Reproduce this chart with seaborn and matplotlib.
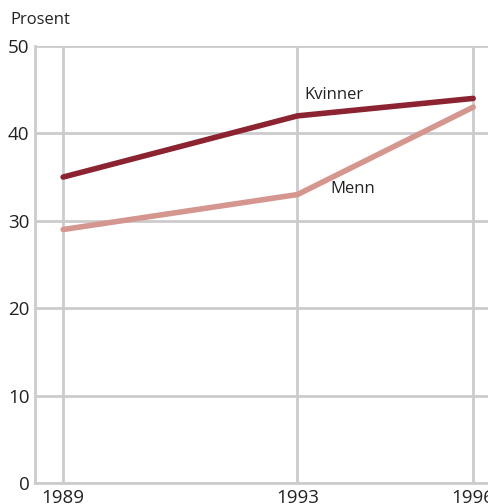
import matplotlib
matplotlib.use("Agg")
import matplotlib.pyplot as plt
import seaborn as sns
import pandas as pd

years = [1989, 1993, 1996]
kvinner = [35, 42, 44]
menn = [29, 33, 43]
y_ticks = [0, 10, 20, 30, 40, 50]

sns.set_style("white")
plt.rcParams["font.family"] = ["Open Sans", "DejaVu Sans"]

df = pd.DataFrame({"year": years * 2,
                   "value": kvinner + menn,
                   "group": ["Kvinner"] * 3 + ["Menn"] * 3})

grid_col = "#cccccc"
fig = plt.figure(figsize=(4.89, 5.04), dpi=100)
ax = fig.add_axes([0.0716, 0.0417, 0.9284, 0.8671])

sns.lineplot(data=df, x="year", y="value", hue="group",
             palette={"Kvinner": "#8c2331", "Menn": "#d4968f"},
             linewidth=4, legend=False, ax=ax, zorder=3)

ax.set_xlim(1988.52, 1996.27)
ax.set_ylim(0, 50)
ax.set_xticks(years)
ax.set_yticks(y_ticks)
ax.grid(True, color=grid_col, linewidth=2)
ax.set_axisbelow(True)
for s in ["top", "right"]:
    ax.spines[s].set_visible(False)
for s in ["left", "bottom"]:
    ax.spines[s].set_color(grid_col)
    ax.spines[s].set_linewidth(2)
ax.tick_params(length=0, labelsize=13.5, colors="#222222", pad=4)
ax.set_xlabel("")
ax.set_ylabel("")

ax.text(1993.12, 44.4, "Kvinner", fontsize=12, color="#222222", va="center", ha="left")
ax.text(1993.56, 33.6, "Menn", fontsize=12, color="#222222", va="center", ha="left")
fig.text(10 / 489, 1 - 20 / 504, "Prosent", fontsize=12, color="#222222", va="center", ha="left")

fig.savefig("out.png", dpi=100)
